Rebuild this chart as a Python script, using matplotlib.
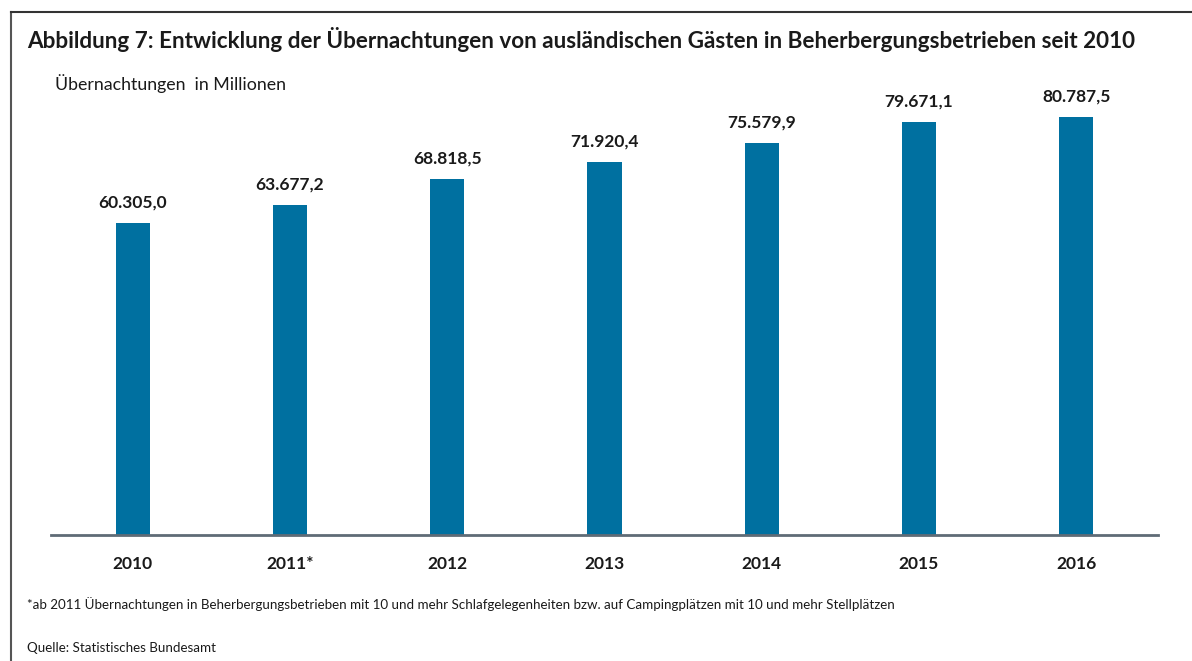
import numpy as np
import matplotlib.pyplot as plt
from matplotlib.lines import Line2D

# data
jahre = ["2010", "2011*", "2012", "2013", "2014", "2015", "2016"]
werte = [60305.0, 63677.2, 68818.5, 71920.4, 75579.9, 79671.1, 80787.5]  # in Tausend

def de_format(v):
    s = f"{v:,.1f}"
    return s.replace(",", "X").replace(".", ",").replace("X", ".")

plt.rcParams['font.family'] = ['Lato', 'DejaVu Sans']

W, H = 1192, 661
fig = plt.figure(figsize=(W / 100, H / 100), dpi=100)

# axes placed in pixel terms
left, right, base, top = 51, 1158, 535, 80
ax = fig.add_axes([left / W, 1 - base / H, (right - left) / W, (base - top) / H])

x = np.arange(len(jahre))
werte_mio = np.array(werte) / 1000
ax.bar(x, werte_mio, width=34 / 157, color="#0070a0", zorder=2)
ax.set_xlim(-0.52, len(jahre) - 0.48)
ax.set_ylim(0, (base - top) / 5.18)

for xi, v in zip(x, werte_mio):
    ax.annotate(de_format(v * 1000), (xi, v), xytext=(0, 9), textcoords="offset points",
                ha="center", va="bottom", fontsize=12.5, fontweight="bold", color="#1a1a1a")

for s in ["top", "right", "left"]:
    ax.spines[s].set_visible(False)
ax.spines["bottom"].set_color("#5f6b76")
ax.spines["bottom"].set_linewidth(2)
ax.set_yticks([])
ax.set_xticks(x)
ax.set_xticklabels(jahre, fontsize=12.5, fontweight="bold", color="#1a1a1a")
ax.tick_params(axis="x", length=0, pad=15)

# frame lines (top and left)
fig.add_artist(Line2D([11 / W, 11 / W], [0, 1 - 12 / H], color="#555555", lw=1.5))
fig.add_artist(Line2D([11 / W, 1], [1 - 12 / H, 1 - 12 / H], color="#333333", lw=1.5))

fig.text(27 / W, 1 - 40 / H,
         "Abbildung 7: Entwicklung der Übernachtungen von ausländischen Gästen in Beherbergungsbetrieben seit 2010",
         fontsize=16.2, fontweight="bold", va="center", ha="left", color="#1a1a1a")
fig.text(55 / W, 1 - 84 / H, "Übernachtungen  in Millionen", fontsize=12.8,
         va="center", ha="left", color="#1a1a1a")
fig.text(27 / W, 1 - 604 / H,
         "*ab 2011 Übernachtungen in Beherbergungsbetrieben mit 10 und mehr Schlafgelegenheiten bzw. auf Campingplätzen mit 10 und mehr Stellplätzen",
         fontsize=9.6, va="center", ha="left", color="#1a1a1a")
fig.text(27 / W, 1 - 648 / H, "Quelle: Statistisches Bundesamt", fontsize=9.6,
         va="center", ha="left", color="#1a1a1a")

fig.savefig("out.png", dpi=100)
